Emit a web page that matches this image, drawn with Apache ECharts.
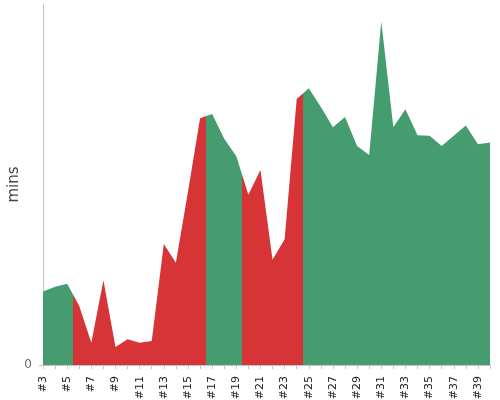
<!DOCTYPE html>
<html>
<head>
<meta charset="utf-8">
<script src="https://cdn.jsdelivr.net/npm/echarts@6/dist/echarts.min.js"></script>
<style>html,body{margin:0;padding:0;background:#fff}#c{width:500px;height:400px}</style>
</head>
<body>
<div id="c"></div>
<script>
var categories = ['#3','#4','#5','#6','#7','#8','#9','#10','#11','#12','#13','#14','#15','#16','#17','#18','#19','#20','#21','#22','#23','#24','#25','#26','#27','#28','#29','#30','#31','#32','#33','#34','#35','#36','#37','#38','#39','#40'];
var minutes = [12.2,13.0,13.5,9.8,3.7,14.1,3.0,4.3,3.7,4.0,20.1,17.0,28.8,41.0,41.7,37.6,34.7,28.3,32.4,17.5,20.9,44.2,46.0,42.9,39.5,41.2,36.4,34.9,57.1,39.5,42.5,38.2,38.1,36.4,38.1,39.8,36.7,37.0];
// colour segments: boundaries (between category indices) and colours
var segmentBreaks = [2.5, 13.5, 16.5, 21.5];
var segmentColors = ['#459c6e', '#d73437', '#459c6e', '#d73437', '#459c6e'];
var yMax = 60;

var data = minutes.map(function (v, i) { return [i, v]; });
var pieces = [];
for (var k = 0; k < segmentColors.length; k++) {
  var p = { color: segmentColors[k] };
  if (k > 0) p.gt = segmentBreaks[k - 1];
  if (k < segmentBreaks.length) p.lte = segmentBreaks[k];
  pieces.push(p);
}

var chart = echarts.init(document.getElementById('c'), null, { renderer: 'canvas' });
chart.setOption({
  animation: false,
  grid: { left: 43, right: 10, top: 4, bottom: 35, containLabel: false, outerBoundsMode: 'none' },
  visualMap: { show: false, type: 'piecewise', dimension: 0, seriesIndex: 0, pieces: pieces },
  xAxis: {
    type: 'value', min: 0, max: categories.length - 1, interval: 1, offset: 4,
    axisLine: { show: true, lineStyle: { color: '#c4c4c4', width: 1 } },
    axisTick: { show: true, length: 4, lineStyle: { color: '#c4c4c4' } },
    splitLine: { show: false },
    axisLabel: {
      rotate: 90, margin: 7, fontSize: 11, color: '#222', fontFamily: 'DejaVu Sans',
      showMinLabel: true, showMaxLabel: true,
      formatter: function (v) { return (v % 2 === 0) ? categories[v] : ''; }
    }
  },
  yAxis: {
    type: 'value', min: 0, max: yMax, offset: 4,
    name: 'mins', nameLocation: 'middle', nameGap: 17, nameMoveOverlap: false,
    nameTextStyle: { fontSize: 15, color: '#444', fontFamily: 'DejaVu Sans' },
    axisLine: { show: true, lineStyle: { color: '#c4c4c4', width: 1 } },
    axisTick: { show: true, length: 4, customValues: [0], lineStyle: { color: '#c4c4c4' } },
    splitLine: { show: false },
    axisLabel: { customValues: [0], margin: 7, fontSize: 12, color: '#666', fontFamily: 'DejaVu Sans' }
  },
  series: [{
    type: 'line', data: data, showSymbol: false, symbol: 'none',
    lineStyle: { width: 0 },
    areaStyle: { opacity: 1 }
  }]
});
</script>
</body>
</html>
